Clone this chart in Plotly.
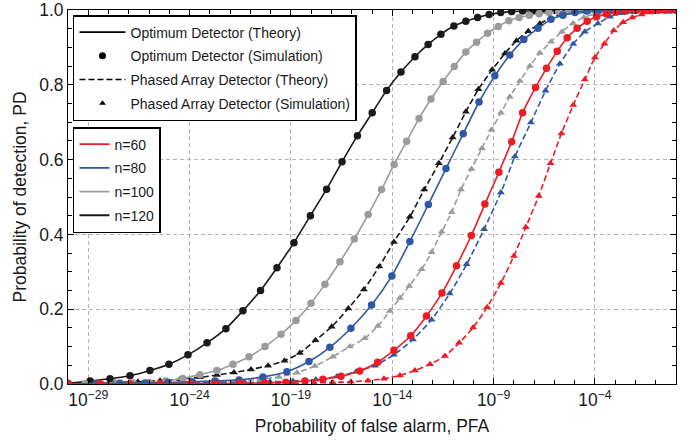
import numpy as np
import plotly.graph_objects as go

# ---------------- data (log10 of PFA and PD) ----------------
# Optimum detector (theory + simulation share these points)
opt_120_exp = [-30.00,-28.91,-27.93,-26.94,-25.96,-25.02,-24.08,-23.14,-22.21,-21.37,
               -20.50,-19.69,-18.85,-18.04,-17.24,-16.48,-15.72,-14.99,-14.28,-13.57,
               -12.88,-12.23,-11.60,-10.96,-10.37,-9.79,-9.22,-8.65,-8.11,-7.57,
               -7.06,-6.52,-5.98,-5.43,-4.89,-4.35,-3.80,-3.26,-2.72,-2.18,
               -1.64,-1.09,-0.55,0.00]
opt_120_pd = [0.002,0.008,0.014,0.022,0.036,0.053,0.078,0.110,0.148,0.196,
              0.250,0.311,0.378,0.450,0.521,0.594,0.664,0.725,0.785,0.834,
              0.875,0.908,0.935,0.957,0.970,0.980,0.988,0.993,0.996,0.997,
              0.998,0.999,1,1,1,1,1,1,1,1,
              1,1,1,1]

opt_100_exp = [-30.00,-29.16,-28.37,-27.58,-26.79,-26.00,-25.17,-24.33,-23.49,-22.65,
               -21.86,-21.07,-20.28,-19.49,-18.75,-18.01,-17.32,-16.58,-15.87,-15.19,
               -14.53,-13.91,-13.29,-12.68,-12.09,-11.49,-10.94,-10.37,-9.84,-9.30,
               -8.77,-8.25,-7.74,-7.24,-6.75,-6.27,-5.78,-5.29,-4.79,-4.30,
               -3.80,-3.31,-2.82,-2.33,-1.83,-1.34,-0.85,-0.35]
opt_100_pd = [0.000,0.0005,0.001,0.002,0.003,0.004,0.008,0.015,0.025,0.036,
              0.053,0.073,0.100,0.133,0.170,0.216,0.267,0.327,0.388,0.453,
              0.520,0.587,0.649,0.710,0.762,0.809,0.849,0.888,0.914,0.938,
              0.956,0.971,0.980,0.986,0.990,0.993,0.995,0.997,0.998,0.999,
              0.999,1,1,1,1,1,1,1]

opt_80_exp = [-30.00,-28.62,-27.43,-26.20,-25.07,-23.88,-22.75,-21.56,-20.38,-19.20,
              -18.11,-17.08,-16.04,-15.02,-14.02,-13.13,-12.22,-11.35,-10.50,-9.72,
              -8.94,-8.20,-7.51,-6.81,-6.17,-5.58,-4.99,-4.40,-3.81,-3.21,
              -2.62,-2.03,-1.44,-0.85,-0.25]
opt_80_pd = [0.000,0.001,0.002,0.003,0.004,0.006,0.008,0.011,0.019,0.033,
             0.060,0.098,0.149,0.211,0.289,0.381,0.480,0.576,0.669,0.754,
             0.824,0.880,0.921,0.951,0.975,0.986,0.993,0.997,0.999,1,
             1,1,1,1,1]

opt_60_exp = [-30.00,-28.42,-26.94,-25.46,-23.98,-22.75,-21.52,-20.28,-19.25,-18.31,
              -17.42,-16.53,-15.60,-14.72,-13.92,-13.09,-12.31,-11.55,-10.83,-10.10,
              -9.43,-8.74,-8.11,-7.57,-6.93,-6.39,-5.86,-5.37,-4.88,-4.38,
              -3.92,-3.43,-2.97,-2.47,-1.98,-1.49,-0.99,-0.50,0.00]
opt_60_pd = [0,0,0,0.001,0.001,0.001,0.002,0.003,0.005,0.008,
             0.013,0.021,0.035,0.058,0.090,0.129,0.182,0.243,0.316,0.397,
             0.481,0.566,0.648,0.725,0.793,0.844,0.890,0.926,0.951,0.970,
             0.982,0.989,0.994,0.997,0.999,1,1,1,1]

# Phased array detector (theory + simulation share these points)
pa_120_exp = [-30.00,-28.82,-27.68,-26.55,-25.46,-24.47,-23.49,-22.65,-21.81,-20.97,
              -20.13,-19.32,-18.56,-17.79,-16.99,-16.17,-15.40,-14.64,-13.92,-13.13,
              -12.42,-11.70,-11.02,-10.37,-9.75,-9.07,-8.44,-7.87,-7.29,-6.72,
              -6.19,-5.65,-5.12,-4.60,-4.08,-3.56,-3.04,-2.52,-2.01,-1.49,
              -0.97,-0.45]
pa_120_pd = [0.001,0.002,0.004,0.006,0.009,0.013,0.018,0.024,0.031,0.039,
             0.049,0.062,0.083,0.117,0.153,0.202,0.253,0.314,0.380,0.447,
             0.520,0.590,0.659,0.728,0.788,0.840,0.884,0.918,0.943,0.963,
             0.978,0.988,0.993,0.996,0.998,0.999,1,1,1,1,
             1,1]

pa_100_exp = [-30.00,-28.67,-27.43,-26.20,-24.97,-23.74,-22.60,-21.52,-20.53,-19.59,
              -18.70,-17.82,-16.93,-16.09,-15.35,-14.71,-14.12,-13.62,-13.16,-12.55,
              -12.06,-11.56,-11.07,-10.61,-10.09,-9.58,-9.10,-8.64,-8.20,-7.70,
              -7.21,-6.72,-6.17,-5.63,-5.09,-4.55,-4.00,-3.46,-2.92,-2.37,
              -1.83,-1.29,-0.75,-0.20]
pa_100_pd = [0,0.001,0.001,0.002,0.003,0.004,0.006,0.009,0.013,0.019,
             0.030,0.048,0.073,0.100,0.122,0.155,0.195,0.230,0.262,0.307,
             0.352,0.407,0.459,0.520,0.575,0.630,0.680,0.725,0.768,0.810,
             0.850,0.885,0.915,0.942,0.964,0.980,0.990,0.995,0.998,0.999,
             1,1,1,1]

pa_80_exp = [-30.00,-28.42,-26.94,-25.46,-23.98,-22.60,-21.27,-20.04,-18.90,-17.77,
             -16.73,-15.79,-14.86,-13.92,-12.98,-12.06,-11.16,-10.33,-9.47,-8.64,
             -7.95,-7.16,-6.44,-5.73,-5.07,-4.50,-3.85,-3.26,-2.67,-2.08,
             -1.49,-0.90,-0.30]
pa_80_pd = [0,0,0.001,0.001,0.002,0.003,0.004,0.006,0.008,0.012,
            0.020,0.033,0.049,0.078,0.119,0.172,0.242,0.320,0.414,0.512,
            0.608,0.699,0.784,0.856,0.909,0.942,0.964,0.982,0.991,0.996,
            0.998,0.999,1]

pa_60_exp = [-30.00,-28.42,-26.94,-25.46,-23.98,-22.60,-21.27,-20.04,-18.90,-17.86,
             -16.93,-16.04,-15.20,-14.41,-13.62,-12.88,-12.14,-11.40,-10.70,-10.01,
             -9.32,-8.64,-8.00,-7.41,-6.77,-6.19,-5.65,-5.07,-4.50,-4.00,
             -3.53,-3.07,-2.61,-2.16,-1.70,-1.26,-0.85,-0.40,0.00]
pa_60_pd = [0,0,0,0,0,0,0.001,0.001,0.002,0.003,
            0.004,0.006,0.009,0.014,0.023,0.036,0.053,0.075,0.110,0.151,
            0.205,0.270,0.342,0.419,0.503,0.590,0.670,0.746,0.814,0.873,
            0.910,0.945,0.967,0.980,0.988,0.993,0.996,0.998,0.999]

n_labels = ["n=60", "n=80", "n=100", "n=120"]
colors = {"n=60": "#ec1c24", "n=80": "#2e58a6", "n=100": "#9b9b9b", "n=120": "#1a1a1a"}

major_exps = [-29, -24, -19, -14, -9, -4]
major_text = ["10<sup>\u2212%d</sup>" % (-e) for e in major_exps]
minor_exps = list(range(-30, 1))

FONT = "Liberation Sans, Arial, Helvetica, sans-serif"

series = [
    ("n=120", opt_120_exp, opt_120_pd, pa_120_exp, pa_120_pd),
    ("n=100", opt_100_exp, opt_100_pd, pa_100_exp, pa_100_pd),
    ("n=80", opt_80_exp, opt_80_pd, pa_80_exp, pa_80_pd),
    ("n=60", opt_60_exp, opt_60_pd, pa_60_exp, pa_60_pd),
]

fig = go.Figure()
for name, oe, op, pe, pp in series:
    assert len(oe) == len(op) and len(pe) == len(pp)
    c = colors[name]
    fig.add_trace(go.Scatter(
        x=10.0 ** np.array(pe), y=pp, mode="lines+markers",
        line=dict(color=c, width=1.6, dash="6px,3px", shape="spline", smoothing=0.6),
        marker=dict(symbol="triangle-up", size=7, color=c),
        showlegend=False, cliponaxis=True))
    fig.add_trace(go.Scatter(
        x=10.0 ** np.array(oe), y=op, mode="lines+markers",
        line=dict(color=c, width=1.6, shape="spline", smoothing=0.6),
        marker=dict(symbol="circle", size=7.5, color=c),
        showlegend=False, cliponaxis=True))

# legend 1: detector / method
leg1 = [
    ("Optimum Detector (Theory)", "lines", "solid", "circle"),
    ("Optimum Detector (Simulation)", "markers", "solid", "circle"),
    ("Phased Array Detector (Theory)", "lines", "6px,3px", "circle"),
    ("Phased Array Detector (Simulation)", "markers", "solid", "triangle-up"),
]
for i, (nm, mode, dash, sym) in enumerate(leg1):
    fig.add_trace(go.Scatter(
        x=[None], y=[None], mode=mode, name=nm, legend="legend", legendgroup="a%d" % i,
        line=dict(color="black", width=1.6, dash=dash),
        marker=dict(symbol=sym, size=7 if sym == "circle" else 6, color="black")))

for i, nm in enumerate(n_labels):
    fig.add_trace(go.Scatter(
        x=[None], y=[None], mode="lines", name=nm, legend="legend2", legendgroup="b%d" % i,
        line=dict(color=colors[nm], width=1.8)))

axis_common = dict(
    showline=True, linecolor="black", linewidth=1, mirror="allticks",
    ticks="inside", ticklen=6, tickwidth=1, tickcolor="black",
    showgrid=True, gridcolor="#b3b3b3", gridwidth=1, griddash="4px,3px",
    zeroline=False, automargin=False, ticklabeloverflow="allow",
    tickfont=dict(size=17.5, color="#1a1a1a", family=FONT),
)

fig.update_layout(
    width=699, height=440,
    margin=dict(l=68, r=23, t=10, b=56),
    paper_bgcolor="white", plot_bgcolor="white",
    font=dict(family=FONT, color="#1a1a1a"),
    xaxis=dict(
        type="log", range=[-30, 0],
        tickvals=[10.0 ** e for e in major_exps], ticktext=major_text,
        minor=dict(tickvals=[10.0 ** e for e in minor_exps], ticks="inside", ticklen=4,
                   tickcolor="black", showgrid=False),
        title=dict(text="Probability of false alarm, PFA", font=dict(size=17.5), standoff=10),
        **axis_common),
    yaxis=dict(
        range=[0, 1], tickvals=[0, 0.2, 0.4, 0.6, 0.8, 1.0], tickformat=".1f",
        minor=dict(dtick=0.05, ticks="inside", ticklen=4, tickcolor="black", showgrid=False),
        title=dict(text="Probability of detection, PD", font=dict(size=17.5), standoff=8),
        **axis_common),
    legend=dict(x=0.0082, y=0.9866, xanchor="left", yanchor="top",
                bordercolor="black", borderwidth=1.5, bgcolor="white",
                font=dict(size=14, family=FONT, color="#1a1a1a"),
                itemwidth=46, traceorder="grouped", tracegroupgap=2.5),
    legend2=dict(x=0.0082, y=0.687, xanchor="left", yanchor="top",
                 bordercolor="black", borderwidth=1.5, bgcolor="white",
                 font=dict(size=14, family=FONT, color="#1a1a1a"),
                 itemwidth=30, traceorder="grouped", tracegroupgap=2.5),
)

# remove the default page margin so the figure sits at the window's top-left corner
fig.write_html("out.html", config={"displayModeBar": False},
               post_script="document.body.style.margin='0';")
